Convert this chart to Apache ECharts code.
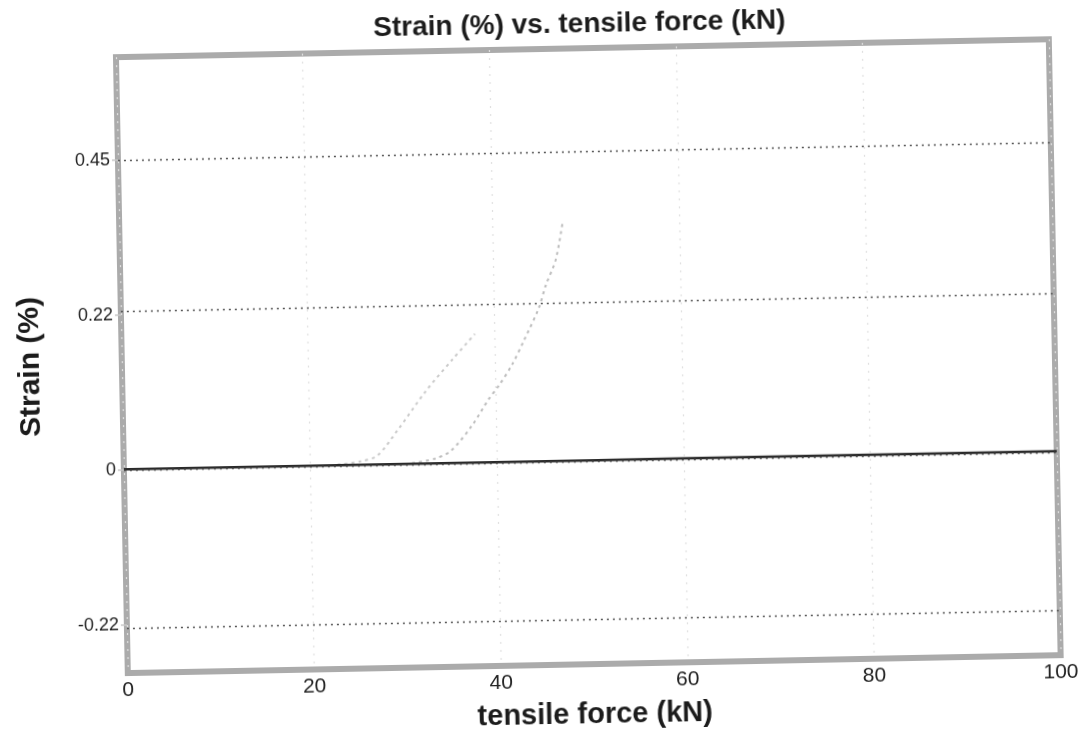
<!DOCTYPE html>
<html>
<head>
<meta charset="utf-8">
<script src="https://cdn.jsdelivr.net/npm/echarts@6/dist/echarts.min.js"></script>
<style>
  html, body { margin: 0; padding: 0; background: #fff; overflow: hidden; }
  #chart { width: 1090px; height: 735px; transform: rotate(-1.1deg); transform-origin: 545px 367px; }
</style>
</head>
<body>
<div id="chart"></div>
<script>
// ---- data ----
const titleText = 'Strain (%) vs. tensile force (kN)';
const xName = 'tensile force (kN)';
const yName = 'Strain (%)';

const xTicks = [0, 20, 40, 60, 80, 100];
const yTickValues = [-0.225, 0, 0.225, 0.45];
const yTickLabels = ['-0.22', '0', '0.22', '0.45'];

// dark baseline series (strain stays near zero over the whole force range)
const baseForce  = [0, 10, 20, 30, 40, 50, 60, 70, 80, 90, 100];
const baseStrain = [0.001, 0.001, 0.001, 0.001, 0.001, 0.001, 0.0015, 0.0015, 0.0015, 0.0015, 0.0015];

// faint left loading curve
const curveAForce  = [22.9, 25.4, 27.2, 29.4, 32.5, 35.4, 37.9];
const curveAStrain = [0.002, 0.006, 0.014, 0.050, 0.106, 0.151, 0.188];

// faint right loading curve
const curveBForce  = [30.9, 33.4, 35.1, 37.4, 39.2, 40.4, 41.8, 43.1, 44.8, 45.6, 46.7, 47.5];
const curveBStrain = [0.002, 0.008, 0.019, 0.055, 0.092, 0.113, 0.142, 0.176, 0.224, 0.257, 0.293, 0.346];

const zip = (a, b) => a.map((v, i) => [v, b[i]]);

const chart = echarts.init(document.getElementById('chart'), null, { renderer: 'canvas' });
const font = 'Liberation Sans, Arial, sans-serif';

chart.setOption({
  backgroundColor: '#ffffff',
  animation: false,
  title: {
    text: titleText,
    left: 581, top: 6, textAlign: 'center',
    textStyle: { fontFamily: font, fontSize: 28, fontWeight: 'bold', color: '#1c1c1c' }
  },
  grid: {
    left: 122, right: 35, top: 49, bottom: 69,
    show: true, borderColor: '#ababab', borderWidth: 6, backgroundColor: '#ffffff'
  },
  xAxis: {
    type: 'value', min: 0, max: 100, interval: 20,
    name: xName, nameLocation: 'middle', nameGap: 36,
    nameTextStyle: { fontFamily: font, fontSize: 29, fontWeight: 'bold', color: '#1c1c1c' },
    axisLine: { show: false }, axisTick: { show: false },
    axisLabel: { margin: 7, fontFamily: font, fontSize: 21, color: '#222',
      formatter: v => (xTicks.indexOf(v) >= 0 ? String(v) : '') },
    splitLine: { show: true, lineStyle: { color: '#e0e0e0', width: 1.2, type: [2, 6] } }
  },
  yAxis: {
    type: 'value', min: -0.295, max: 0.6,
    name: yName, nameLocation: 'middle', nameGap: 76, nameRotate: 90,
    nameTextStyle: { fontFamily: font, fontSize: 30, fontWeight: 'bold', color: '#1c1c1c' },
    axisLine: { show: false },
    axisTick: { show: true, customValues: yTickValues, length: 6, lineStyle: { color: '#c8c8c8', width: 1.5 } },
    axisLabel: { customValues: yTickValues, margin: 8,
      fontFamily: font, fontSize: 18, color: '#222',
      formatter: v => {
        const i = yTickValues.findIndex(t => Math.abs(t - v) < 1e-6);
        return i >= 0 ? yTickLabels[i] : '';
      } },
    splitLine: { show: false }
  },
  series: [
    {
      type: 'line', data: zip(curveAForce, curveAStrain), showSymbol: false, smooth: 0.3,
      lineStyle: { color: '#cacaca', width: 2, type: [3, 4] }, z: 3
    },
    {
      type: 'line', data: zip(curveBForce, curveBStrain), showSymbol: false, smooth: 0.3,
      lineStyle: { color: '#bdbdbd', width: 2, type: [3, 4] }, z: 3
    },
    {
      type: 'line', data: zip(baseForce, baseStrain), showSymbol: false,
      lineStyle: { color: '#2a2a2a', width: 2.6 }, z: 4,
      markLine: {
        silent: true, symbol: 'none', label: { show: false },
        lineStyle: { color: '#555555', width: 1.4, type: [2, 4] },
        data: yTickValues.map(v => ({ yAxis: v }))
      }
    }
  ]
});
</script>
</body>
</html>
